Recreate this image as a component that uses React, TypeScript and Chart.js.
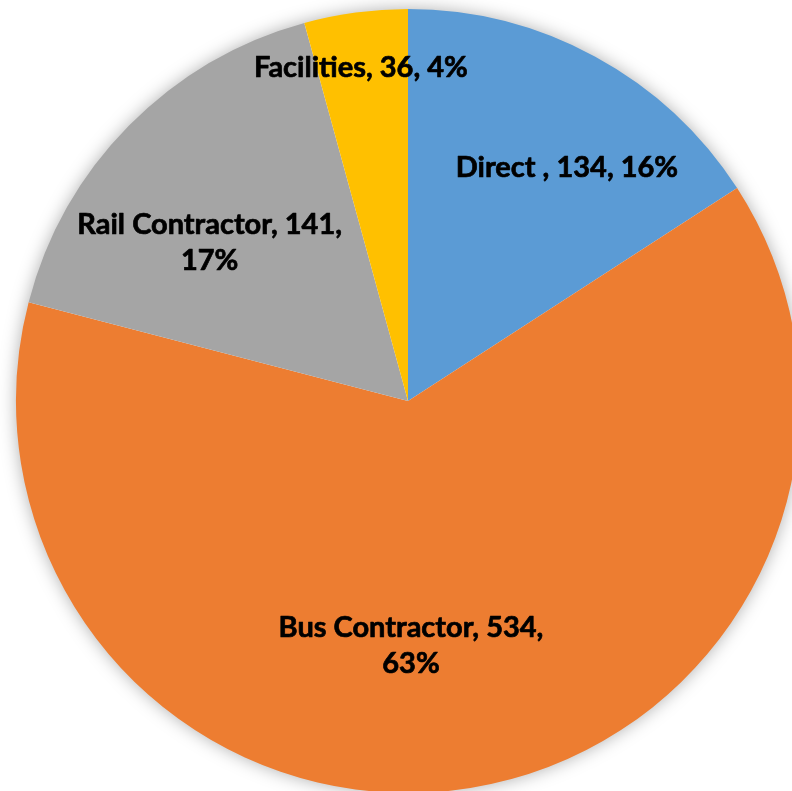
import React, { useEffect, useRef } from "react";
import { Chart, registerables } from "chart.js";

Chart.register(...registerables);

const categories = ["Direct ", "Bus Contractor", "Rail Contractor", "Facilities"];
const values = [134, 534, 141, 36];
const colors = ["#5B9BD5", "#ED7D31", "#A5A5A5", "#FFC000"];
// label anchor: angle (deg, clockwise from top) and radial fraction
const labelAngles = [34.0, 179.3, 309.0, 352.0];
const labelRadii = [0.725, 0.619, 0.651, 0.864];

const FONT = "bold 29px Lato";
const LINE_H = 36;
const MAX_W = 300;

function wrap(ctx: CanvasRenderingContext2D, text: string, maxW: number): string[] {
  const words = text.split(" ");
  const lines: string[] = [];
  let cur = "";
  for (const w of words) {
    const t = cur ? cur + " " + w : w;
    if (cur && ctx.measureText(t).width > maxW) {
      lines.push(cur);
      cur = w;
    } else cur = t;
  }
  if (cur) lines.push(cur);
  return lines;
}

const shadowPlugin = {
  id: "pieShadow",
  beforeDatasetsDraw(chart: any) {
    const arc = chart.getDatasetMeta(0).data[0];
    if (!arc) return;
    const ctx = chart.ctx;
    ctx.save();
    ctx.shadowColor = "rgba(0,0,0,0.35)";
    ctx.shadowBlur = 18;
    ctx.fillStyle = "#ffffff";
    ctx.beginPath();
    ctx.arc(arc.x, arc.y, arc.outerRadius - 1, 0, Math.PI * 2);
    ctx.fill();
    ctx.restore();
  },
};

const labelPlugin = {
  id: "pieLabels",
  afterDatasetsDraw(chart: any) {
    const meta = chart.getDatasetMeta(0);
    const ctx = chart.ctx;
    const total = values.reduce((a, b) => a + b, 0);
    ctx.save();
    ctx.font = FONT;
    ctx.fillStyle = "#000000";
    ctx.strokeStyle = "#000000";
    ctx.lineWidth = 0.7;
    ctx.lineJoin = "round";
    ctx.textAlign = "center";
    ctx.textBaseline = "middle";
    meta.data.forEach((arc: any, i: number) => {
      const pct = Math.round((values[i] / total) * 100);
      const text = `${categories[i]}, ${values[i]}, ${pct}%`;
      const lines = wrap(ctx, text, MAX_W);
      const a = (labelAngles[i] * Math.PI) / 180;
      const r = arc.outerRadius * labelRadii[i];
      const cx = arc.x + Math.sin(a) * r;
      const cy = arc.y - Math.cos(a) * r;
      const start = cy - ((lines.length - 1) * LINE_H) / 2;
      lines.forEach((ln, k) => {
        ctx.fillText(ln, cx, start + k * LINE_H + 2);
        ctx.strokeText(ln, cx, start + k * LINE_H + 2);
      });
    });
    ctx.restore();
  },
};

export default function App() {
  const ref = useRef<HTMLCanvasElement>(null);
  useEffect(() => {
    document.body.style.margin = "0";
    document.body.style.overflow = "hidden";
    const chart = new Chart(ref.current!, {
      type: "pie",
      data: {
        labels: categories,
        datasets: [
          {
            data: values,
            backgroundColor: colors,
            borderWidth: 0,
          },
        ],
      },
      options: {
        animation: false,
        responsive: false,
        maintainAspectRatio: false,
        layout: { padding: { left: 16, right: 16, top: 9, bottom: 9 } },
        plugins: {
          legend: { display: false },
          tooltip: { enabled: false },
        },
      },
      plugins: [shadowPlugin, labelPlugin],
    });
    return () => chart.destroy();
  }, []);
  return (
    <div style={{ position: "relative", width: 792, height: 791, overflow: "hidden", background: "#fff" }}>
      <canvas ref={ref} width={816} height={802} style={{ position: "absolute", left: 0, top: 0, width: 816, height: 802 }} />
    </div>
  );
}
